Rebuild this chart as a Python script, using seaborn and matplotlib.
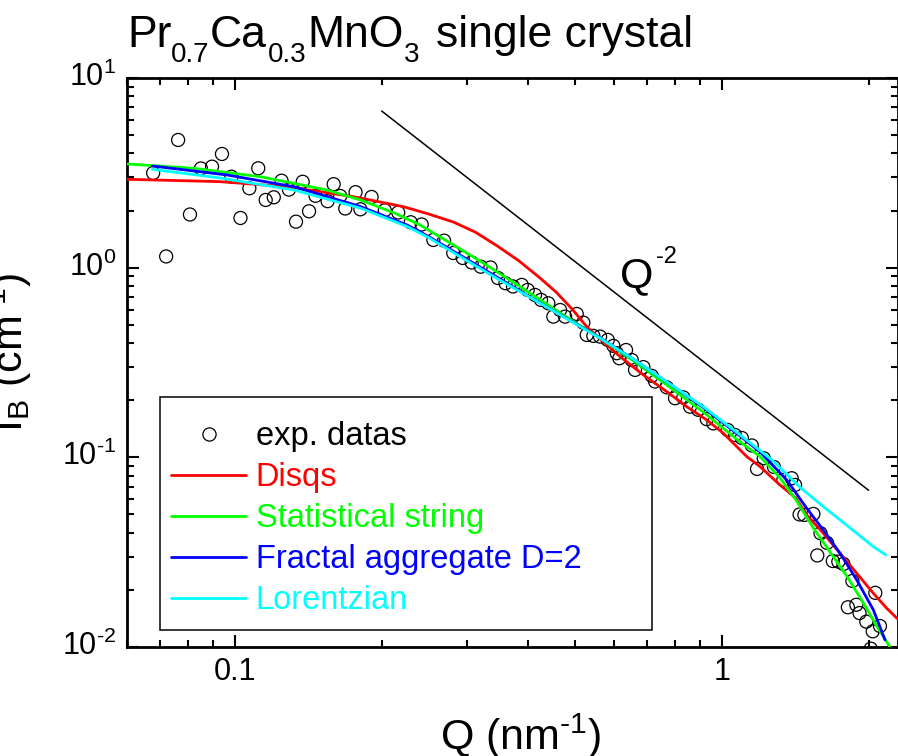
import numpy as np
import matplotlib
matplotlib.use("Agg")
import matplotlib.pyplot as plt
from matplotlib.ticker import LogLocator, NullFormatter, FixedLocator, FixedFormatter, FuncFormatter
from matplotlib.transforms import ScaledTranslation
from matplotlib.lines import Line2D
from matplotlib.patches import Rectangle
import seaborn as sns

# ---- measured SANS intensity (open circles) ----
q_exp = [0.0679, 0.0722, 0.0764, 0.0808, 0.0851, 0.0897, 0.0940, 0.0983, 0.1026, 0.1070,
         0.1116, 0.1156, 0.1201, 0.1246, 0.1290, 0.1334, 0.1377, 0.1419, 0.1463, 0.1549,
         0.1594, 0.1644, 0.1684, 0.1768, 0.1809, 0.1907, 0.2030, 0.2163, 0.2295, 0.2417,
         0.2554, 0.2687, 0.2806, 0.2934, 0.3062, 0.3195, 0.3346, 0.3467, 0.3592, 0.3722,
         0.3879, 0.3990, 0.4130, 0.4249, 0.4398, 0.4504, 0.4650, 0.4761, 0.5031, 0.5190,
         0.5275, 0.5442, 0.5617, 0.5825, 0.5982, 0.6079, 0.6154, 0.6352, 0.6525, 0.6628,
         0.6894, 0.7172, 0.7286, 0.7699, 0.8007, 0.8327, 0.8597, 0.8939, 0.9302, 0.9597,
         1.027, 1.063, 1.098, 1.151, 1.180, 1.218, 1.278, 1.336, 1.390, 1.412,
         1.443, 1.476, 1.540, 1.569, 1.593, 1.643, 1.688, 1.733, 1.775, 1.852,
         1.813, 1.887, 1.916, 1.978, 2.064, 2.110, 2.039, 2.020]
i_exp = [3.156, 1.146, 4.713, 1.907, 3.334, 3.408, 3.975, 3.017, 1.828, 2.621,
         3.342, 2.275, 2.350, 2.874, 2.580, 1.748, 2.837, 1.983, 2.393, 2.242,
         2.755, 2.388, 2.051, 2.500, 2.031, 2.359, 2.007, 1.954, 1.735, 1.689,
         1.400, 1.388, 1.195, 1.125, 1.065, 1.012, 1.002, 0.882, 0.828, 0.796,
         0.811, 0.763, 0.718, 0.676, 0.649, 0.552, 0.598, 0.552, 0.570, 0.513,
         0.442, 0.437, 0.433, 0.416, 0.387, 0.354, 0.333, 0.368, 0.326, 0.289,
         0.299, 0.269, 0.251, 0.234, 0.205, 0.207, 0.185, 0.178, 0.159, 0.151,
         0.1395, 0.1312, 0.1265, 0.1155, 0.0869, 0.0989, 0.0890, 0.0760, 0.0776, 0.0715,
         0.0500, 0.0497, 0.0503, 0.0304, 0.0398, 0.0354, 0.0284, 0.0282, 0.0274, 0.0223,
         0.0162, 0.0167, 0.0151, 0.0136, 0.0193, 0.0129, 0.0121, 0.0098]

# ---- model curves ----
q_disqs = [0.0600, 0.0932, 0.1277, 0.1750, 0.2216, 0.2497, 0.2806, 0.3111, 0.3456, 0.3830,
           0.4229, 0.4561, 0.4943, 0.5270, 0.5622, 0.6175, 0.6894, 0.7700, 0.8462, 0.9302,
           1.006, 1.055, 1.124, 1.197, 1.315, 1.418, 1.492, 1.614, 1.747, 1.890,
           2.045, 2.179, 2.288]
i_disqs = [2.924, 2.841, 2.673, 2.368, 2.097, 1.919, 1.741, 1.542, 1.301, 1.085,
           0.882, 0.7444, 0.598, 0.489, 0.4208, 0.3396, 0.2719, 0.2220, 0.1850, 0.1575,
           0.1340, 0.1187, 0.1009, 0.0893, 0.0715, 0.0609, 0.0497, 0.0398, 0.0312, 0.0245,
           0.0192, 0.0160, 0.01415]

q_string = [0.0600, 0.0823, 0.1127, 0.1545, 0.1809, 0.2124, 0.2398, 0.2806, 0.3287, 0.3847,
            0.4781, 0.5622, 0.6613, 0.7780, 0.9149, 1.076, 1.197, 1.315, 1.423, 1.540,
            1.666, 1.803, 1.950, 2.078, 2.179, 2.244]
i_string = [3.522, 3.342, 3.017, 2.568, 2.275, 1.943, 1.680, 1.320, 1.030, 0.794,
            0.552, 0.4245, 0.3194, 0.2359, 0.1735, 0.1235, 0.1009, 0.0779, 0.0589, 0.0424,
            0.0317, 0.0237, 0.0171, 0.0129, 0.01064, 0.00942]

q_fractal = [0.0676, 0.0963, 0.1320, 0.1809, 0.2255, 0.2497, 0.2938, 0.3456, 0.4064, 0.4781,
             0.5622, 0.6613, 0.7780, 0.9149, 1.076, 1.197, 1.358, 1.492, 1.614, 1.747,
             1.890, 2.045, 2.161]
i_fractal = [3.437, 3.081, 2.673, 2.100, 1.679, 1.460, 1.140, 0.890, 0.692, 0.543,
             0.426, 0.326, 0.2453, 0.1832, 0.1328, 0.1068, 0.0760, 0.0539, 0.0414, 0.0312,
             0.0226, 0.0157, 0.0109]

q_lorentz = [0.0676, 0.0932, 0.1320, 0.1809, 0.2255, 0.2497, 0.2938, 0.3456, 0.4064, 0.4781,
             0.5622, 0.6613, 0.7780, 0.9149, 1.076, 1.266, 1.446, 1.614, 1.747, 1.890,
             2.045, 2.168]
i_lorentz = [3.302, 2.971, 2.568, 2.060, 1.650, 1.440, 1.120, 0.875, 0.690, 0.541,
             0.4245, 0.326, 0.2458, 0.1850, 0.1345, 0.0969, 0.0695, 0.0550, 0.0468, 0.0398,
             0.0338, 0.0306]

# Q^-2 guide line
q_guide = [0.2, 2.0]
i_guide = [6.7, 0.067]

x_ticks = [0.1, 1]
x_ticklabels = ["0.1", "1"]

series = [
    ("Disqs", q_disqs, i_disqs, "#ff0000"),
    ("Statistical string", q_string, i_string, "#00ff00"),
    ("Fractal aggregate D=2", q_fractal, i_fractal, "#0000ff"),
    ("Lorentzian", q_lorentz, i_lorentz, "#00ffff"),
]

sns.set_style("ticks")
plt.rcParams.update({
    "font.family": ["Liberation Sans", "DejaVu Sans"],
    "mathtext.fontset": "custom",
    "mathtext.rm": "Liberation Sans",
    "mathtext.it": "Liberation Sans:italic",
    "mathtext.bf": "Liberation Sans:bold",
    "mathtext.sf": "Liberation Sans",
    "axes.linewidth": 2.0,
    "axes.edgecolor": "black",
    "text.color": "black",
    "axes.labelcolor": "black",
    "xtick.color": "black",
    "ytick.color": "black",
})

W, H = 898, 756
fig = plt.figure(figsize=(W / 100, H / 100), dpi=100)
ax = fig.add_axes([127 / W, 1 - 647 / H, (898.2 - 127) / W, (647 - 78) / H])
ax.set_xscale("log")
ax.set_yscale("log")

sns.scatterplot(x=q_exp, y=i_exp, ax=ax, marker="o", s=88,
                facecolors="none", edgecolors="black", linewidth=0.9, zorder=2)

for name, q, i, c in series:
    sns.lineplot(x=q, y=i, ax=ax, color=c, lw=2.0, sort=False, estimator=None, zorder=3)

sns.lineplot(x=q_guide, y=i_guide, ax=ax, color="black", lw=1.1, sort=False,
             estimator=None, zorder=3)

ax.set_xlim(0.06, 2.3)
ax.set_ylim(0.01, 10)


def decade_label(v, pos):
    e = int(round(np.log10(v)))
    if e < 0:
        return r"$\mathdefault{10^{\text{-}%d}}$" % (-e)
    return r"$\mathdefault{10^{%d}}$" % e


ax.xaxis.set_major_locator(FixedLocator(x_ticks))
ax.xaxis.set_major_formatter(FixedFormatter(x_ticklabels))
ax.xaxis.set_minor_locator(LogLocator(base=10, subs=np.arange(2, 10)))
ax.xaxis.set_minor_formatter(NullFormatter())
ax.yaxis.set_major_locator(LogLocator(base=10, numticks=10))
ax.yaxis.set_major_formatter(FuncFormatter(decade_label))
ax.yaxis.set_minor_locator(LogLocator(base=10, subs=np.arange(2, 10), numticks=20))
ax.yaxis.set_minor_formatter(NullFormatter())

ax.tick_params(which="both", direction="in", top=True, right=True, width=1.5,
               colors="black", labelsize=22)
ax.tick_params(which="major", length=8.6)
ax.tick_params(which="minor", length=4.8)
ax.tick_params(axis="x", which="major", pad=7)
ax.tick_params(axis="y", which="major", pad=7.5)
for sp in ax.spines.values():
    sp.set_visible(True)
    sp.set_linewidth(2.0)
    sp.set_color("black")

# axis labels
ax.set_xlabel(r"Q (nm$^{\text{-}1}$)", fontsize=31)
ax.xaxis.set_label_coords(0.511, (647 - 712) / 569)
ax.set_ylabel(r"I$_{\mathrm{B}}$ (cm$^{\text{-}1}$)", fontsize=31)
ax.yaxis.set_label_coords((34 - 127) / 771.2, 0.517)

# title: chemical formula with lowered subscripts
main_base = 1 - 47 / H
sub_base = 1 - 62 / H
title_runs = [("Pr", 127, main_base, 32), ("0.7", 171, sub_base, 20),
              ("Ca", 210, main_base, 32), ("0.3", 268, sub_base, 20),
              ("MnO", 307, main_base, 32), ("3", 404, sub_base, 20),
              ("single crystal", 436, main_base, 32)]
for txt, xp, yb, fs in title_runs:
    fig.text(xp / W, yb, txt, fontsize=fs, ha="left", va="baseline")

# slope annotation for the guide line
fig.text(620 / W, 1 - 287 / H, "Q", fontsize=31, ha="left", va="baseline")
fig.text(656 / W, 1 - 263 / H, "-2", fontsize=17, ha="left", va="baseline")

# legend
handles = [Line2D([], [], ls="none", marker="o", ms=9.5, mfc="none", mec="black", mew=0.9)]
labels = ["exp. datas"]
colors = ["black"]
for name, q, i, c in series:
    handles.append(Line2D([], [], color=c, lw=2.0))
    labels.append(name)
    colors.append(c)
old = ax.get_legend()
if old is not None:
    old.remove()
leg = ax.legend(handles, labels, loc="upper left",
                bbox_to_anchor=(171 / W, 1 - 421 / H), bbox_transform=fig.transFigure,
                frameon=False, borderpad=0, borderaxespad=0, fontsize=23.5,
                handlelength=2.3, handletextpad=0.3, labelspacing=0.31)
for t, c in zip(leg.get_texts(), colors):
    t.set_color(c)
fig.add_artist(Rectangle((160 / W, 1 - 630 / H), 492 / W, 233 / H,
                         transform=fig.transFigure, fill=False, ec="black", lw=1.1))

# lift the decade labels slightly above their ticks
fig.canvas.draw()
lift = ScaledTranslation(0, 4 / 100, fig.dpi_scale_trans)
for tk in ax.yaxis.get_major_ticks():
    tk.label1.set_transform(tk.label1.get_transform() + lift)

fig.savefig("out.png", dpi=100)
